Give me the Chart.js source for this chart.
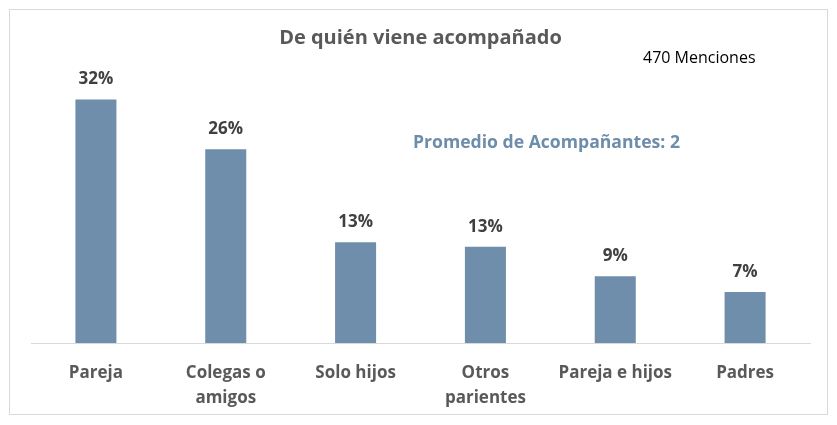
<!DOCTYPE html>
<html>
<head>
<meta charset="utf-8">
<script src="https://cdn.jsdelivr.net/npm/chart.js@4"></script>
<style>
  body { margin: 0; background: #fff; }
  #wrap { width: 837px; height: 425px; }
</style>
</head>
<body>
<div id="wrap"><canvas id="myChart" width="837" height="425"></canvas></div>
<script>
var categories = ["Pareja", ["Colegas o", "amigos"], "Solo hijos", ["Otros", "parientes"], "Pareja e hijos", "Padres"];
var percentages = [32.4, 25.8, 13.4, 12.8, 8.9, 6.8];
var menciones = "470 Menciones";
var promedio = "Promedio de Acompañantes: 2";

var FONT = '"Open Sans", "Noto Sans", sans-serif';

// border, notes and value labels
var extras = {
  id: 'extras',
  beforeDraw: function(chart) {
    var c = chart.ctx;
    c.save();
    c.fillStyle = '#fff';
    c.fillRect(0, 0, chart.width, chart.height);
    c.strokeStyle = '#d9d9d9';
    c.lineWidth = 1;
    c.strokeRect(9.5, 9.5, 818, 405);
    c.restore();
  },
  afterDatasetsDraw: function(chart) {
    var c = chart.ctx;
    c.save();
    c.textAlign = 'center';
    c.textBaseline = 'middle';
    c.font = 'bold 17px ' + FONT;
    c.fillStyle = '#404040';
    chart.getDatasetMeta(0).data.forEach(function(bar, i) {
      c.fillText(Math.round(percentages[i]) + '%', bar.x, bar.y - 20);
    });
    c.font = '16px ' + FONT;
    c.fillStyle = '#000';
    c.textAlign = 'left';
    c.fillText(menciones, 643, 58);
    c.font = 'bold 17.6px ' + FONT;
    c.fillStyle = '#6E8DAB';
    c.fillText(promedio, 413, 143);
    c.restore();
  }
};

var ctx = document.getElementById('myChart').getContext('2d');
var myChart = new Chart(ctx, {
  type: 'bar',
  data: {
    labels: categories,
    datasets: [{
      data: percentages,
      backgroundColor: '#6F8EAC',
      barPercentage: 0.316,
      categoryPercentage: 1
    }]
  },
  options: {
    responsive: false,
    animation: false,
    layout: { padding: { left: 31, right: 27, top: 0, bottom: -4 } },
    plugins: {
      legend: { display: false },
      tooltip: { enabled: false },
      title: {
        display: true,
        text: 'De quién viene acompañado',
        color: '#595959',
        font: { family: FONT, size: 20, weight: 'bold', lineHeight: 1.2 },
        padding: { top: 26.5, bottom: 22 }
      }
    },
    scales: {
      y: { display: false, min: 0, max: 36 },
      x: {
        grid: { display: false, drawTicks: false },
        border: { display: true, color: '#d9d9d9', width: 1 },
        ticks: {
          color: '#595959',
          padding: 18,
          maxRotation: 0,
          autoSkip: false,
          font: { family: FONT, size: 17, weight: 'bold', lineHeight: 1.47 }
        }
      }
    }
  },
  plugins: [extras]
});
</script>
</body>
</html>
